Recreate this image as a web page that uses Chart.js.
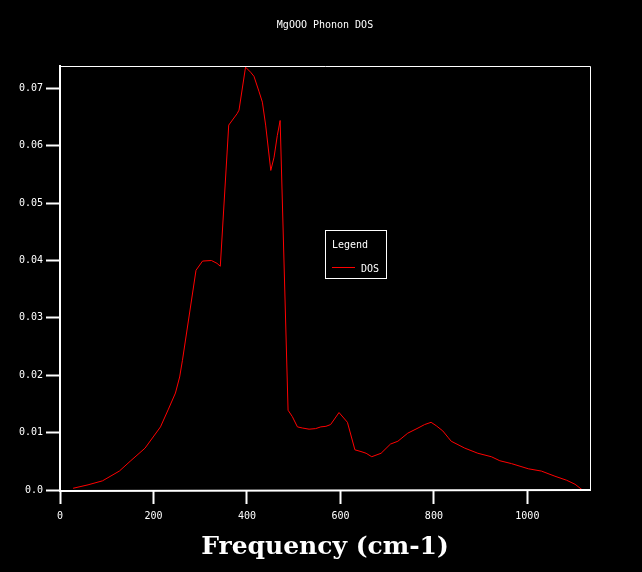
<!DOCTYPE html>
<html><head><meta charset="utf-8">
<script src="https://cdn.jsdelivr.net/npm/chart.js@4"></script>
<style>html,body{margin:0;padding:0;background:#000;}canvas{display:block}</style>
</head><body>
<canvas id="c" width="642" height="572"></canvas>
<script>
const chartTitle = "MgOOO Phonon DOS";
const xAxisTitle = "Frequency (cm-1)";
const legendTitle = "Legend";
const seriesName = "DOS";

const frequency = [28, 60, 91, 127, 150, 182, 215, 232, 247, 256, 262, 291, 305, 324, 336, 343, 361, 379, 383, 397, 408, 415, 426, 433, 440, 451, 458, 465, 471, 488, 497, 508, 519, 533, 547, 558, 569, 579, 597, 615, 631, 644, 655, 667, 687, 707, 723, 744, 766, 780, 794, 805, 819, 830, 837, 866, 894, 923, 941, 966, 1002, 1030, 1059, 1084, 1102, 1118];
const dos = [0.0003, 0.0009, 0.0016, 0.0033, 0.0050, 0.0073, 0.0110, 0.0141, 0.0169, 0.0197, 0.0226, 0.0383, 0.0399, 0.0400, 0.0395, 0.0390, 0.0636, 0.0656, 0.0662, 0.0737, 0.0728, 0.0721, 0.0694, 0.0676, 0.0636, 0.0557, 0.0580, 0.0618, 0.0644, 0.0139, 0.0128, 0.0110, 0.0108, 0.0106, 0.0107, 0.0110, 0.0111, 0.0114, 0.0135, 0.0118, 0.0070, 0.0067, 0.0064, 0.0058, 0.0064, 0.0080, 0.0085, 0.0099, 0.0108, 0.0114, 0.0118, 0.0112, 0.0103, 0.0092, 0.0085, 0.0073, 0.0064, 0.0058, 0.0051, 0.0046, 0.0037, 0.0033, 0.0024, 0.0017, 0.0010, 0.0000];

const xTickValues = [0, 200, 400, 600, 800, 1000];
const xTickLabels = ["0", "200", "400", "600", "800", "1000"];
const yTickValues = [0, 0.01, 0.02, 0.03, 0.04, 0.05, 0.06, 0.07];
const yTickLabels = ["0.0", "0.01", "0.02", "0.03", "0.04", "0.05", "0.06", "0.07"];
const xMin = 0, xMax = 1134;
const yMin = 0, yMax = 0.0739;

const monoFont = "DejaVu Sans Mono";

const framePlugin = {
  id: 'frame',
  beforeDraw(chart) {
    const ctx = chart.ctx;
    ctx.save();
    ctx.fillStyle = '#000';
    ctx.fillRect(0, 0, chart.width, chart.height);
    ctx.restore();
  },
  afterDraw(chart) {
    const ctx = chart.ctx;
    const a = chart.chartArea;
    ctx.save();
    ctx.strokeStyle = '#fff';
    ctx.lineWidth = 1;
    ctx.beginPath();
    ctx.moveTo(a.left, a.top + 0.5);
    ctx.lineTo(a.right + 0.5, a.top + 0.5);
    ctx.lineTo(a.right + 0.5, a.bottom);
    ctx.stroke();
    ctx.lineWidth = 2;
    ctx.beginPath();
    ctx.moveTo(a.left, a.top - 1);
    ctx.lineTo(a.left, a.bottom + 1);
    ctx.lineTo(a.right + 1, a.bottom);
    ctx.stroke();
    // title
    ctx.fillStyle = '#fff';
    ctx.font = "10px '" + monoFont + "'";
    ctx.textAlign = 'center';
    ctx.textBaseline = 'alphabetic';
    ctx.fillText(chartTitle, (a.left + a.right) / 2, 28);
    // legend box
    ctx.lineWidth = 1;
    ctx.strokeRect(325.5, 230.5, 61, 48);
    ctx.textAlign = 'left';
    ctx.fillText(legendTitle, 332, 248);
    const ds = chart.data.datasets[0];
    ctx.strokeStyle = ds.borderColor;
    ctx.beginPath();
    ctx.moveTo(332, 267.5);
    ctx.lineTo(355, 267.5);
    ctx.stroke();
    ctx.fillText(ds.label, 361, 272);
    ctx.restore();
  }
};

new Chart(document.getElementById('c'), {
  type: 'scatter',
  data: {
    datasets: [{
      label: seriesName,
      data: frequency.map((f, i) => ({x: f, y: dos[i]})),
      showLine: true,
      borderColor: '#ff0000',
      borderWidth: 1,
      pointRadius: 0,
      tension: 0,
      fill: false
    }]
  },
  options: {
    responsive: false,
    animation: false,
    devicePixelRatio: 1,
    layout: {padding: {left: 0, right: 52, top: 66, bottom: 0}},
    plugins: {legend: {display: false}, title: {display: false}, tooltip: {enabled: false}},
    scales: {
      x: {
        type: 'linear', min: xMin, max: xMax,
        afterBuildTicks(s) { s.ticks = xTickValues.map(v => ({value: v})); },
        afterFit(s) { s.height = 82; },
        border: {display: false},
        grid: {display: true, drawOnChartArea: false, drawTicks: true, tickLength: 14, tickWidth: 2, color: '#fff'},
        ticks: {
          autoSkip: false, maxRotation: 0, color: '#fff', padding: 6,
          font: {family: monoFont, size: 10},
          callback: (v) => xTickLabels[xTickValues.indexOf(v)]
        },
        title: {display: true, text: xAxisTitle, color: '#fff',
          font: {family: 'DejaVu Serif', size: 25, weight: 'bold'}, padding: {top: 0, bottom: 10}}
      },
      y: {
        type: 'linear', min: yMin, max: yMax,
        afterBuildTicks(s) { s.ticks = yTickValues.map(v => ({value: v})); },
        afterFit(s) { s.width = 60; },
        border: {display: false},
        grid: {display: true, drawOnChartArea: false, drawTicks: true, tickLength: 14, tickWidth: 2, color: '#fff'},
        ticks: {
          autoSkip: false, color: '#fff', padding: 3,
          font: {family: monoFont, size: 10},
          callback: (v) => yTickLabels[yTickValues.indexOf(v)]
        }
      }
    }
  },
  plugins: [framePlugin]
});
</script>
</body></html>
